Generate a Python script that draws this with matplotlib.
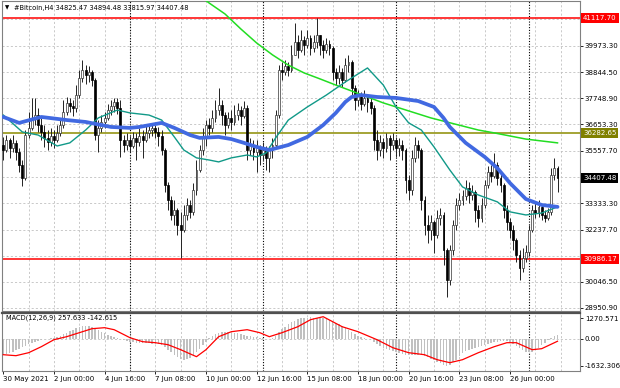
import matplotlib
matplotlib.use("Agg")
import matplotlib.pyplot as plt
from matplotlib.transforms import blended_transform_factory

W, H = 620, 388
plt.rcParams['font.family'] = ['DejaVu Sans']
FS = 5.0

# H4 candles, first bar = 30 May 2021 08:00
close = [35580, 36000, 35670, 35880, 35500, 34950, 34400, 36210, 36510, 36930,
         37050, 36630, 36340, 36090, 35920, 36170, 36000, 36300, 36630, 37180,
         37560, 37430, 37350, 37890, 38610, 38940, 38730, 38860, 38520, 36210,
         36510, 36760, 36930, 37260, 37430, 37600, 37350, 36000, 35790, 36000,
         35750, 36090, 35920, 36170, 36000, 36300, 36420, 36510, 36340, 36170,
         35580, 34110, 33480, 32850, 33060, 32430, 32220, 32850, 33270, 32980,
         33900, 34740, 35580, 36090, 36630, 36510, 36930, 37260, 37470, 37050,
         36630, 36930, 36760, 37050, 37260, 37010, 37350, 35580, 35790, 35500,
         35670, 35370, 35580, 35250, 35580, 35790, 37050, 38940, 38860, 39110,
         38940, 39580, 40120, 39790, 40210, 40000, 40290, 39870, 40120, 40420,
         40000, 39790, 40040, 39870, 38860, 38610, 38860, 38520, 39150, 39280,
         38190, 37680, 37850, 37520, 37770, 37600, 37350, 36000, 35580, 35920,
         35670, 36090, 35790, 36000, 35670, 35790, 35580, 34320, 33900, 35250,
         35790, 35580, 33480, 32430, 32220, 32560, 32010, 32720, 32850, 31380,
         30120, 31380, 32430, 33270, 33480, 33650, 33980, 33690, 33820, 33060,
         32720, 33270, 34110, 34660, 34490, 34950, 34400, 34110, 33060, 32560,
         32220, 31800, 31170, 30620, 31040, 31290, 32220, 33060, 32930, 33190,
         32850, 32720, 32980, 34530, 34825.47, 34407.48]
high = [36130, 36210, 36090, 36210, 36000, 35670, 35160, 36420, 37180, 37770,
        37770, 37350, 36930, 36630, 36420, 36510, 36420, 36630, 36930, 37680,
        37810, 37770, 37680, 38310, 38940, 39360, 39150, 39110, 38940, 38610,
        36840, 37050, 37180, 37520, 37680, 37770, 37770, 37680, 36210, 36300,
        36170, 36340, 36300, 36510, 36420, 36590, 36670, 36630, 36630, 36550,
        36420, 35670, 34240, 33650, 33480, 33140, 32980, 33270, 33560, 33480,
        34190, 35160, 35790, 36510, 36840, 36930, 37260, 37680, 38190, 37680,
        37180, 37180, 37260, 37470, 37560, 37430, 37640, 37470, 36090, 36000,
        36000, 35790, 35920, 35750, 35750, 36090, 37260, 39150, 39280, 39360,
        39280, 40000, 40920, 40420, 40630, 40370, 40630, 40420, 40420, 41130,
        40420, 40210, 40290, 40210, 39950, 39030, 39150, 39030, 39450, 39580,
        39360, 38310, 38100, 38020, 38100, 37890, 37770, 37470, 36420, 36210,
        36090, 36300, 36210, 36300, 36130, 36090, 36000, 35670, 34530, 35580,
        36130, 36000, 35670, 33650, 32850, 32850, 32640, 33060, 33140, 32980,
        31460, 31590, 32640, 33560, 33770, 33900, 34320, 34240, 34110, 33900,
        33270, 33560, 34320, 34910, 34950, 35460, 35080, 34660, 34190, 33270,
        32720, 32430, 31880, 31380, 31460, 31590, 32430, 33270, 33350, 33480,
        33270, 33060, 33140, 34825, 35250, 34894.48]
low = [35160, 35500, 35250, 35500, 35160, 34660, 34070, 34320, 36090, 36420,
       36630, 36340, 36000, 35710, 35580, 35750, 35670, 35920, 36170, 36510,
       37050, 37180, 37010, 37180, 37770, 38440, 38360, 38440, 38270, 36000,
       35500, 36340, 36510, 36840, 37050, 37180, 37090, 35290, 35500, 35580,
       35500, 35670, 35160, 35750, 35250, 35920, 36090, 36170, 36090, 35750,
       35370, 33820, 33060, 32640, 32430, 32010, 31040, 32130, 32640, 32720,
       32850, 33690, 34660, 35370, 35750, 36210, 36340, 36760, 37050, 36630,
       36210, 36510, 36420, 36630, 36840, 36630, 36930, 35160, 35370, 35160,
       34660, 34950, 35160, 34740, 34660, 35250, 35670, 36930, 38520, 38730,
       38690, 38860, 39580, 39450, 39700, 39580, 39870, 39580, 39700, 39870,
       39580, 39450, 39660, 39580, 38520, 38310, 38360, 38230, 38440, 38860,
       37890, 37260, 37430, 37260, 37430, 37180, 37090, 35580, 35160, 35330,
       35250, 35500, 35160, 35580, 35290, 35330, 35160, 33770, 33480, 33690,
       35080, 35250, 33060, 32010, 31670, 31800, 31250, 31880, 32430, 30750,
       29400, 29910, 31170, 32220, 33060, 33270, 33480, 33350, 33480, 32560,
       32340, 32560, 33140, 33980, 34240, 34400, 34110, 33820, 32720, 32220,
       31880, 31380, 30870, 30120, 30450, 30870, 31130, 32130, 32720, 32770,
       32640, 32560, 32640, 32850, 34320, 33815.97]
first_open = 35790

# moving averages, read at their bends
blue_idx = [0, 5, 12, 20, 26, 34, 40, 43, 50, 54, 59, 62, 68, 72, 76, 80, 84,
            90, 96, 101, 105, 108, 110, 113, 118, 124, 131, 136, 139, 141, 146,
            152, 156, 160, 165, 170, 175]
blue_ma = [36970, 36720, 36970, 36840, 36760, 36550, 36510, 36550, 36720, 36510,
           36210, 36090, 36130, 36040, 35880, 35710, 35580, 35790, 36130, 36630,
           37140, 37600, 37810, 37890, 37810, 37770, 37640, 37390, 36930, 36550,
           35880, 35290, 34820, 34190, 33520, 33270, 33190]
teal_idx = [0, 6, 11, 17, 21, 26, 30, 36, 40, 46, 50, 54, 57, 61, 65, 68, 72,
            77, 80, 83, 86, 90, 96, 102, 108, 115, 120, 124, 128, 132, 136, 141,
            145, 150, 156, 160, 165, 170, 175]
teal_ma = [37050, 36340, 36210, 35750, 35880, 36420, 36930, 37260, 37140, 37050,
           36840, 36130, 35580, 35250, 35160, 35080, 35250, 35370, 35290, 35460,
           36090, 36840, 37390, 37890, 38440, 39030, 38310, 37390, 36720, 36420,
           35710, 34740, 34030, 33690, 33400, 32980, 32850, 32930, 33190]
green_idx = list(range(60, 176, 5))
green_ma = [42270, 41760, 41300, 40670, 40080, 39580, 39150, 38820, 38570, 38310,
            38060, 37810, 37560, 37350, 37140, 36930, 36760, 36590, 36420, 36300,
            36170, 36040, 35960, 35880]

# MACD(12,26,9)
macd_hist = [-950, -900, -850, -780, -700, -620, -520, -420, -330, -250,
             -180, -120, -60, -20, 10, 30, 40, 100, 180, 280,
             380, 470, 560, 640, 720, 780, 800, 790, 740, 640,
             540, 440, 350, 260, 190, 120, 60, 10, -40, -100,
             -170, -200, -220, -230, -250, -260, -280, -300, -320, -340,
             -400, -520, -680, -820, -950, -1080, -1200, -1260, -1230, -1150,
             -1020, -820, -600, -380, -160, 40, 180, 290, 360, 400,
             410, 400, 380, 360, 340, 300, 260, 200, 170, 130,
             100, 70, 40, 20, 10, 60, 200, 420, 600, 750,
             880, 1000, 1110, 1200, 1260, 1290, 1300, 1310, 1300, 1290,
             1270, 1250, 1230, 1180, 1080, 980, 880, 780, 680, 560,
             440, 320, 200, 120, 60, 0, -60, -200, -340, -450,
             -540, -620, -680, -740, -800, -860, -900, -950, -1000, -990,
             -960, -950, -970, -1040, -1100, -1200, -1300, -1380, -1450, -1600,
             -1632.306, -1560, -1420, -1260, -1050, -850, -760, -680, -620, -560,
             -500, -440, -380, -320, -260, -200, -160, -120, -100, -130,
             -200, -320, -450, -580, -700, -780, -820, -780, -700, -560,
             -400, -230, -80, 60, 160, 257.633]
sig_idx = [0, 4, 8, 12, 16, 20, 24, 28, 32, 35, 40, 44, 48, 52, 56, 61, 64, 68,
           72, 77, 81, 84, 88, 93, 97, 101, 104, 107, 112, 118, 123, 128, 133,
           137, 141, 145, 150, 155, 159, 162, 167, 170, 175]
macd_sig = [-962, -1022, -840, -475, -49, 134, 377, 621, 682, 560, 73, -170,
            -231, -353, -657, -1083, -657, 134, 438, 560, 377, 134, 377, 742,
            1168, 1351, 1047, 742, 438, -49, -536, -840, -962, -1266, -1448,
            -1266, -840, -475, -231, -231, -657, -596, -142.615]

price_ticks = [39973.30, 38844.50, 37748.90, 36653.30, 35557.70,
               33333.30, 32237.70, 30046.50, 28950.90]
hidden_grid = [41069.10, 34445.50, 31142.10]
time_idx = list(range(0, 161, 16))
time_labels = ['30 May 2021', '2 Jun 00:00', '4 Jun 16:00', '7 Jun 08:00',
               '10 Jun 00:00', '12 Jun 16:00', '15 Jun 08:00', '18 Jun 00:00',
               '20 Jun 16:00', '23 Jun 08:00', '26 Jun 00:00']
separators = [40, 82, 124, 166]
resistance, support, pivot = 41117.70, 30986.17, 36282.65

fig = plt.figure(figsize=(W / 100, H / 100), dpi=100)
ax = fig.add_axes([2 / W, 1 - 311 / H, 578 / W, 310 / H])
ax2 = fig.add_axes([2 / W, 1 - 371 / H, 578 / W, 58 / H])
xl = (-0.41, 182.1)
ax.set_xlim(xl)
ax2.set_xlim(xl)
ax.set_ylim(28812.2, 41844.6)
ax2.set_ylim(-1954, 1576)

grid_kw = dict(color='#c0c0c0', lw=0.6, ls=(0, (2.5, 2.5)), zorder=0)
for v in price_ticks + hidden_grid:
    ax.axhline(v, **grid_kw)
for i in range(8, 183, 8):
    ax.axvline(i, **grid_kw)
    ax2.axvline(i, **grid_kw)
ax2.axhline(0, **grid_kw)
for s in separators:
    ax.axvline(s, color='black', lw=0.8, ls=(0, (1, 1.5)), zorder=1)
    ax2.axvline(s, color='black', lw=0.8, ls=(0, (1, 1.5)), zorder=1)

ax.axhline(resistance, color='#ff0000', lw=1.1, zorder=2)
ax.axhline(support, color='#ff0000', lw=1.1, zorder=2)
ax.axhline(pivot, color='#8c8c00', lw=1.1, zorder=2)

# candles
opens = [first_open] + close[:-1]
idx = list(range(len(close)))
lo = [min(l, o, c) for l, o, c in zip(low, opens, close)]
hi = [max(h, o, c) for h, o, c in zip(high, opens, close)]
ax.vlines(idx, lo, hi, color='#222222', lw=0.7, zorder=3)
up = [i for i in idx if close[i] >= opens[i]]
dn = [i for i in idx if close[i] < opens[i]]
ax.bar(up, [max(close[i] - opens[i], 25) for i in up], 0.62,
       [opens[i] for i in up], color='white', edgecolor='#333333', lw=0.5, zorder=4)
ax.bar(dn, [max(opens[i] - close[i], 25) for i in dn], 0.62,
       [close[i] for i in dn], color='black', edgecolor='black', lw=0.5, zorder=4)

ax.plot(green_idx, green_ma, color='#22dd22', lw=1.1, zorder=5)
ax.plot(teal_idx, teal_ma, color='#119988', lw=1.0, zorder=5)
ax.plot(blue_idx, blue_ma, color='#4169e1', lw=2.7, solid_capstyle='round',
        solid_joinstyle='round', zorder=6)

# MACD panel
ax2.bar(idx, macd_hist, 0.5, color='#c0c0c0', zorder=2)
ax2.plot(sig_idx, macd_sig, color='#ff0000', lw=0.9, solid_joinstyle='round', zorder=3)

for a in (ax, ax2):
    for sp in a.spines.values():
        sp.set_color('#808080')
        sp.set_linewidth(0.8)
ax2.spines['top'].set_linewidth(1.6)
ax2.spines['top'].set_color('#505050')

ax.yaxis.tick_right()
ax.set_yticks(price_ticks)
ax.set_yticklabels(['%.2f' % v for v in price_ticks])
ax.tick_params(axis='y', length=2.2, width=0.6, pad=1.2, labelsize=FS)
ax.tick_params(axis='x', bottom=False, labelbottom=False)

ax2.yaxis.tick_right()
ax2.set_yticks([1270.571, 0, -1632.306])
ax2.set_yticklabels(['1270.571', '0.00', '-1632.306'])
ax2.tick_params(axis='y', length=2.2, width=0.6, pad=1.2, labelsize=FS)
ax2.set_xticks(time_idx)
ax2.set_xticklabels(time_labels)
ax2.tick_params(axis='x', length=2.2, width=0.6, pad=1.5, labelsize=FS)
for t in ax2.get_xticklabels():
    t.set_ha('left')

tr = blended_transform_factory(ax.transAxes, ax.transData)
for v, fc, tc in [(resistance, '#ff0000', 'white'), (support, '#ff0000', 'white'),
                  (pivot, '#808000', 'white'), (close[-1], 'black', 'white')]:
    ax.text(1 + 3 / 578, v, '%.2f' % v, transform=tr, ha='left', va='center',
            fontsize=FS, color=tc, zorder=10, clip_on=False,
            bbox=dict(boxstyle='square,pad=0.3', fc=fc, ec='none'))

fig.text(5 / W, 1 - 8 / H, '\u25bc', fontsize=4, va='center', ha='left')
fig.text(14 / W, 1 - 8 / H, '#Bitcoin,H4 34825.47 34894.48 33815.97 34407.48',
         fontsize=4.8, va='center', ha='left')
fig.text(6 / W, 1 - 318 / H, 'MACD(12,26,9) 257.633 -142.615',
         fontsize=4.8, va='center', ha='left')

fig.savefig('out.png', dpi=100)
